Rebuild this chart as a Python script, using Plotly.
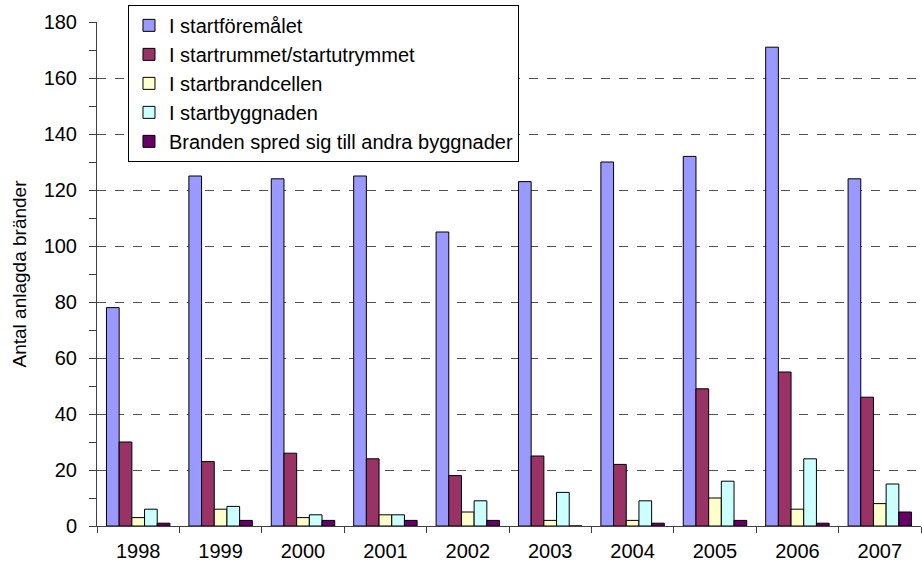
import plotly.graph_objects as go

years = ["1998", "1999", "2000", "2001", "2002", "2003", "2004", "2005", "2006", "2007"]

startforemalet = [78, 125, 124, 125, 105, 123, 130, 132, 171, 124]
startrummet = [30, 23, 26, 24, 18, 25, 22, 49, 55, 46]
startbrandcellen = [3, 6, 3, 4, 5, 2, 2, 10, 6, 8]
startbyggnaden = [6, 7, 4, 4, 9, 12, 9, 16, 24, 15]
andra_byggnader = [1, 2, 2, 2, 2, 0, 1, 2, 1, 5]

series = [
    ("I startföremålet", startforemalet, "#9999FF"),
    ("I startrummet/startutrymmet", startrummet, "#993366"),
    ("I startbrandcellen", startbrandcellen, "#FFFFCC"),
    ("I startbyggnaden", startbyggnaden, "#CCFFFF"),
    ("Branden spred sig till andra byggnader", andra_byggnader, "#660066"),
]

FONT = "Liberation Sans, Arial, sans-serif"

fig = go.Figure()
for i, (name, vals, color) in enumerate(series):
    fig.add_trace(go.Bar(
        name=name, x=years, y=vals,
        marker=dict(color=color, line=dict(color="#000000", width=1)),
        legendgroup=f"g{i}",
    ))

fig.update_layout(
    width=922, height=574,
    margin=dict(l=97, r=1, t=22, b=48),
    paper_bgcolor="white", plot_bgcolor="white",
    barmode="group", bargap=0.23, bargroupgap=0,
    font=dict(family=FONT, size=20, color="#000000"),
    showlegend=True,
    legend=dict(
        x=0.0376, y=1.034, xanchor="left", yanchor="top",
        bgcolor="white", bordercolor="#000000", borderwidth=1,
        font=dict(family=FONT, size=20, color="#000000"),
        traceorder="grouped", tracegroupgap=0,
        itemwidth=30,
    ),
    xaxis=dict(
        showline=True, linecolor="#404040", linewidth=1,
        ticks="outside", ticklen=6, tickcolor="#404040",
        tickson="boundaries", showgrid=False,
        tickfont=dict(family=FONT, size=20),
        ticklabelstandoff=7,
    ),
    yaxis=dict(
        range=[0, 180], dtick=20,
        showline=True, linecolor="#404040", linewidth=1,
        ticks="outside", ticklen=7, tickcolor="#404040",
        showgrid=True, gridcolor="#505050", griddash="dash", gridwidth=1,
        minor=dict(dtick=10, ticks="outside", ticklen=7, tickcolor="#404040", showgrid=False),
        zeroline=False,
        tickfont=dict(family=FONT, size=20),
        ticklabelstandoff=8,
        title=dict(text="Antal anlagda bränder", font=dict(family=FONT, size=19), standoff=11),
    ),
)

fig.write_html("out.html")
